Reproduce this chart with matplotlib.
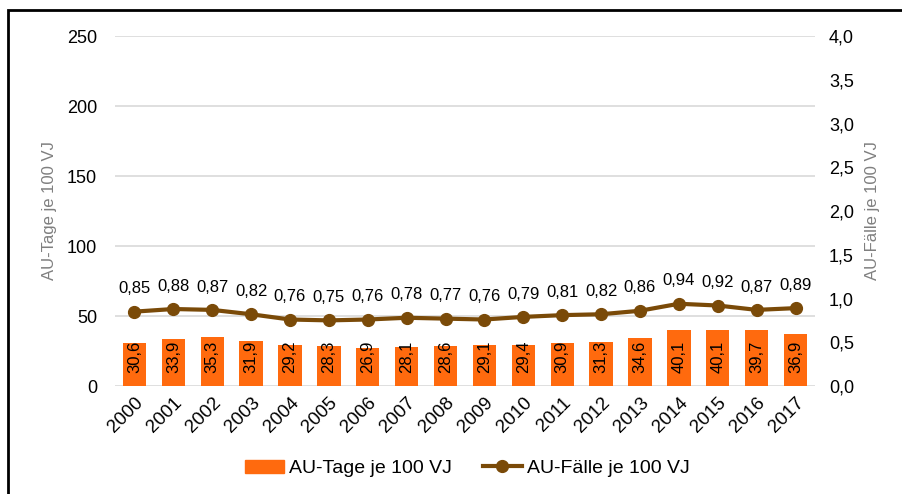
import matplotlib.pyplot as plt
from matplotlib.patches import Rectangle
from matplotlib.lines import Line2D

plt.rcParams['font.family'] = ['Liberation Sans', 'DejaVu Sans']

years = [str(y) for y in range(2000, 2018)]
au_tage = [30.6, 33.9, 35.3, 31.9, 29.2, 28.3, 26.9, 28.1, 28.6, 29.1,
           29.4, 30.9, 31.3, 34.6, 40.1, 40.1, 39.7, 36.9]
au_faelle = [0.85, 0.88, 0.87, 0.82, 0.76, 0.75, 0.76, 0.78, 0.77, 0.76,
             0.79, 0.81, 0.82, 0.86, 0.94, 0.92, 0.87, 0.89]

left_ticks = [0, 50, 100, 150, 200, 250]
right_ticks = [0.0, 0.5, 1.0, 1.5, 2.0, 2.5, 3.0, 3.5, 4.0]

bar_color = '#FF6A0E'
line_color = '#7A4A08'


def de(v, nd):
    return f"{v:.{nd}f}".replace('.', ',')


fig = plt.figure(figsize=(9.02, 4.94), dpi=100)
ax = fig.add_axes([0.1275, 0.2186, 0.776, 0.7085])
ax2 = ax.twinx()

x = list(range(len(years)))

# Balken
ax.bar(x, au_tage, width=0.6, color=bar_color, zorder=2)
for xi, v in zip(x, au_tage):
    ax.text(xi, 9, de(v, 1), rotation=90, ha='center', va='bottom',
            fontsize=12, color='black', zorder=3)

ax.set_ylim(0, 250)
ax.set_xlim(-0.5, len(years) - 0.5)
ax.set_yticks(left_ticks)
ax.set_yticklabels([str(t) for t in left_ticks])
ax.yaxis.grid(True, color='#D9D9D9', linewidth=1.2)
ax.set_axisbelow(True)
ax.set_xticks(x)
ax.set_xticklabels(years, rotation=45, ha='right', rotation_mode='anchor')
ax.tick_params(axis='both', length=0, labelsize=13, colors='black')
ax.tick_params(axis='y', pad=13)
ax.tick_params(axis='x', pad=6, labelsize=13.5)
ax.set_ylabel('AU-Tage je 100 VJ', fontsize=12, color='#7F7F7F', labelpad=7)

# Linie
ax2.plot(x, au_faelle, color=line_color, linewidth=3, marker='o',
         markersize=8.5, zorder=4)
for xi, v in zip(x, au_faelle):
    ax2.annotate(de(v, 2), (xi, v), xytext=(0, 11), textcoords='offset points',
                 ha='center', va='bottom', fontsize=12)
ax2.set_ylim(0, 4.0)
ax2.set_yticks(right_ticks)
ax2.set_yticklabels([de(t, 1) for t in right_ticks])
ax2.tick_params(axis='y', length=0, labelsize=13, pad=10)
ax2.set_ylabel('AU-Fälle je 100 VJ', fontsize=12, color='#7F7F7F', labelpad=8)

for a in (ax, ax2):
    for s in a.spines.values():
        s.set_visible(False)

handles = [Rectangle((0, 0), 1, 1, color=bar_color),
           Line2D([0], [0], color=line_color, linewidth=3, marker='o', markersize=8.5)]
fig.legend(handles, ['AU-Tage je 100 VJ', 'AU-Fälle je 100 VJ'],
           loc='center', bbox_to_anchor=(0.518, 0.052), ncol=2, frameon=False,
           fontsize=14, handlelength=2.0, columnspacing=1.6, handletextpad=0.25)

# Rahmen
fig.patches.append(Rectangle((8 / 902, -0.05), 1.1, 1.05 - 10 / 494,
                             transform=fig.transFigure, fill=False,
                             edgecolor='black', linewidth=2))

fig.savefig('out.png', dpi=100)
